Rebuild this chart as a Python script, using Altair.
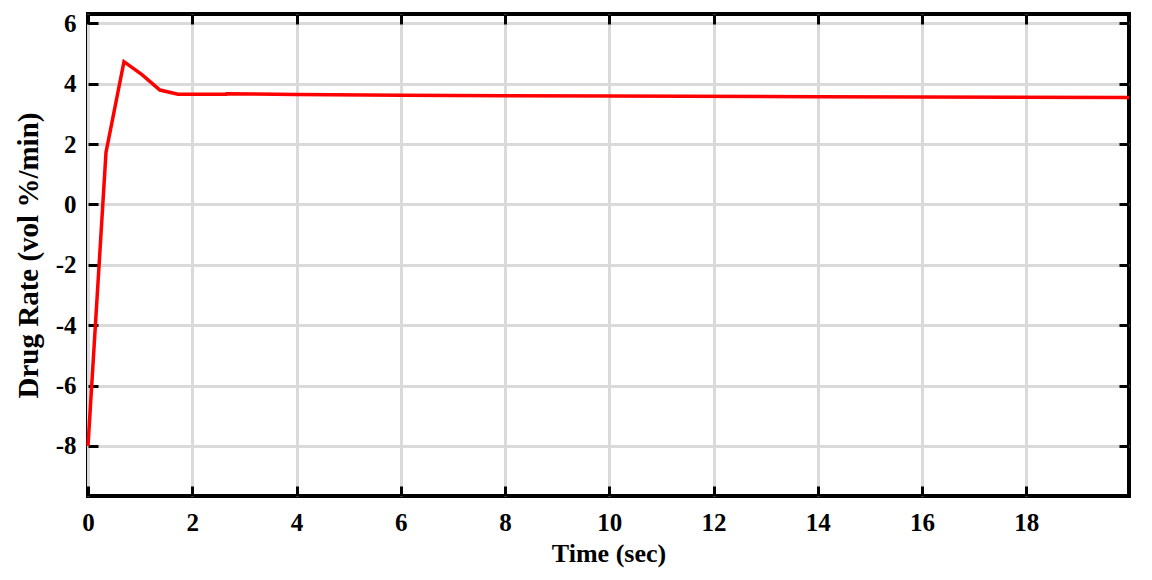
import altair as alt
import pandas as pd

# drug rate response
time_sec = [0, 0.345, 0.69, 1.035, 1.38, 1.725, 2.65, 2.66, 4, 6, 8, 10, 14, 19.97]
drug_rate = [-8, 1.72, 4.73, 4.3, 3.79, 3.65, 3.65, 3.67, 3.64, 3.62, 3.6, 3.59, 3.57, 3.54]

x_ticks = [0, 2, 4, 6, 8, 10, 12, 14, 16, 18]
y_ticks = [-8, -6, -4, -2, 0, 2, 4, 6]

df = pd.DataFrame({"Time": time_sec, "Rate": drug_rate})

font = "Liberation Serif, Times New Roman, serif"
x_scale = alt.Scale(domain=[0, 19.97], nice=False, zero=False)
y_scale = alt.Scale(domain=[-9.66, 6.31], nice=False, zero=False)

# hyphen instead of the unicode minus
label_expr = "datum.value < 0 ? '-' + abs(datum.value) : '' + datum.value"

tick_style = dict(
    domain=False, ticks=True, tickColor="black", tickWidth=3, tickSize=10,
    offset=-10, labelFont=font, labelFontSize=25, labelFontWeight="bold",
    labelColor="black", labelFlush=False, labelOverlap=False, labelExpr=label_expr,
    titleFont=font, titleFontWeight="bold", titleColor="black",
    grid=True, gridColor="#dadada", gridWidth=3,
)

line = alt.Chart(df).mark_line(color="#ff0000", strokeWidth=3.5).encode(
    x=alt.X("Time:Q", scale=x_scale,
            axis=alt.Axis(values=x_ticks, title="Time (sec)", labelPadding=14,
                          titleFontSize=26, titlePadding=5, **tick_style)),
    y=alt.Y("Rate:Q", scale=y_scale,
            axis=alt.Axis(values=y_ticks, title="Drug Rate (vol %/min)",
                          labelPadding=12, titleFontSize=29, titlePadding=12,
                          **tick_style)),
)

# mirrored inward ticks on the top and right sides
mirror = alt.Chart(df).mark_line(opacity=0).encode(
    x=alt.X("Time:Q", scale=x_scale,
            axis=alt.Axis(orient="top", values=x_ticks, labels=False, title="",
                          grid=False, domain=False, tickColor="black",
                          tickWidth=3, tickSize=10, offset=-10)),
    y=alt.Y("Rate:Q", scale=y_scale,
            axis=alt.Axis(orient="right", values=y_ticks, labels=False, title="",
                          grid=False, domain=False, tickColor="black",
                          tickWidth=3, tickSize=10, offset=-10)),
)

chart = alt.layer(line, mirror).resolve_axis(x="independent", y="independent").properties(
    width=1041,
    height=482,
    autosize=alt.AutoSizeParams(type="none"),
    padding={"left": 80, "top": 6, "right": 14, "bottom": 76},
    background="white",
).configure_view(stroke="black", strokeWidth=4)

chart.save("out.html", embed_options={"renderer": "svg", "actions": False})
